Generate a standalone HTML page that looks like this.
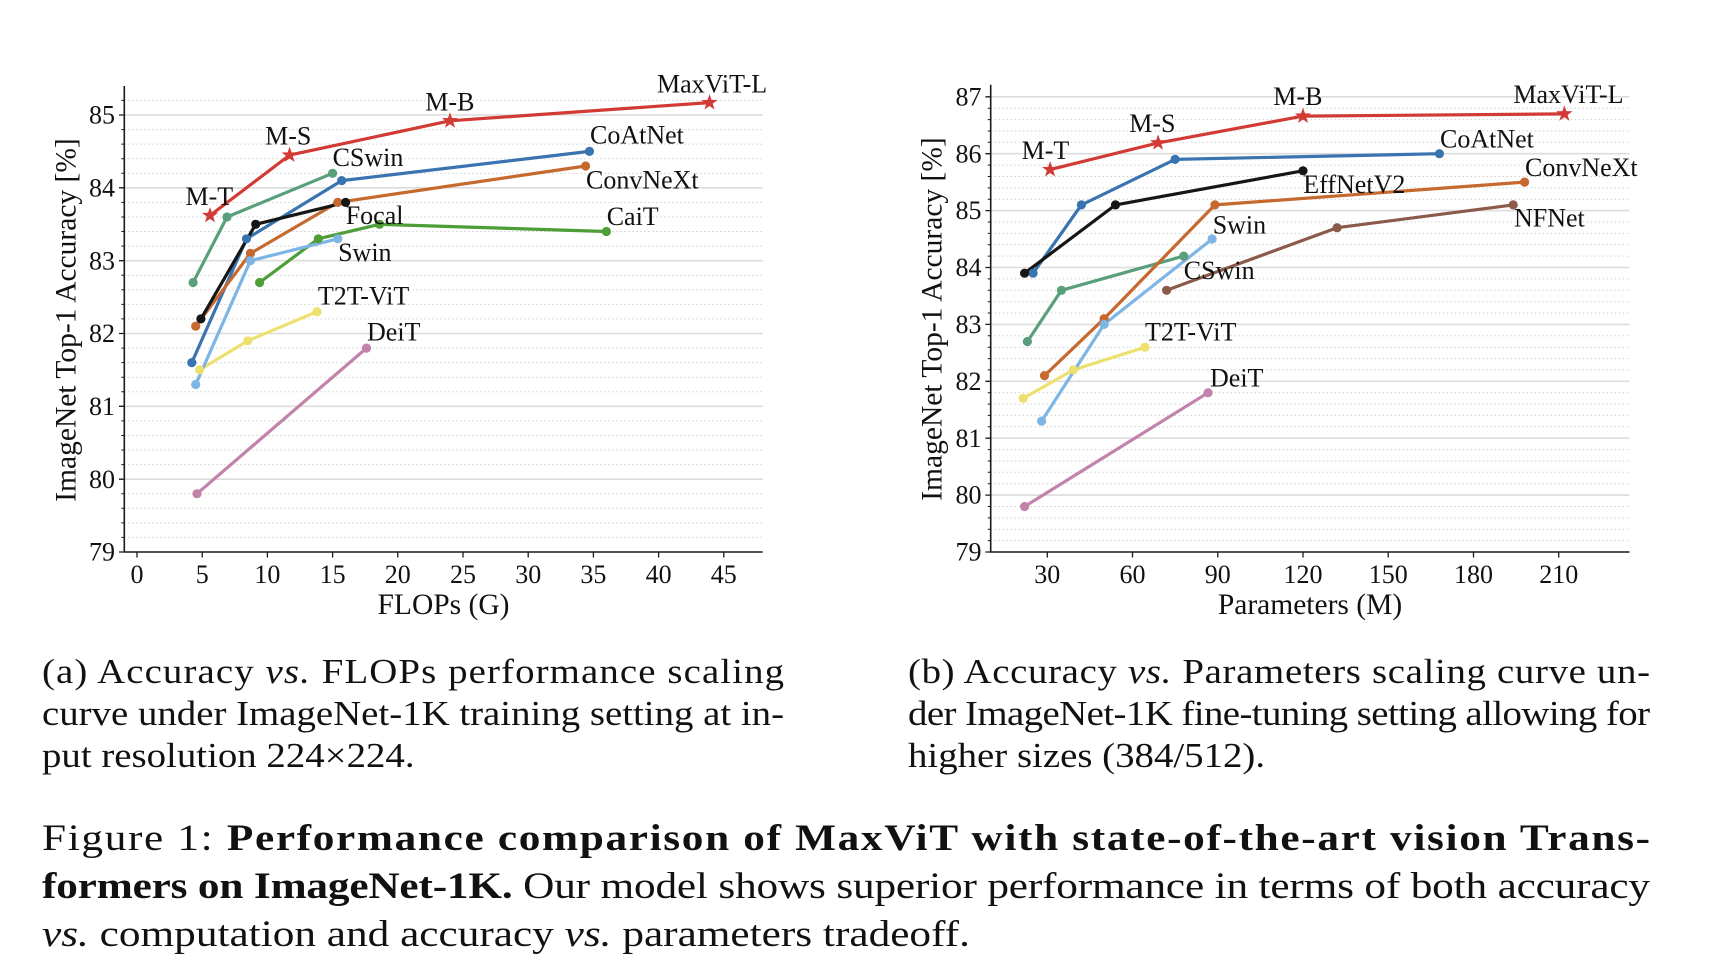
<!DOCTYPE html>
<html>
<head>
<meta charset="utf-8">
<style>
html,body{margin:0;padding:0;background:#fff;}
body{width:1710px;height:972px;position:relative;overflow:hidden;}
svg{position:absolute;left:0;top:0;}
</style>
</head>
<body>
<svg width="1710" height="972" viewBox="0 0 1710 972" xmlns="http://www.w3.org/2000/svg">
<defs>
<path id="star" d="M0,-8.5 L2.0,-2.75 L8.08,-2.63 L3.23,1.05 L5.0,6.88 L0,3.4 L-5.0,6.88 L-3.23,1.05 L-8.08,-2.63 L-2.0,-2.75 Z"/>
</defs>
<!-- ================= LEFT CHART ================= -->
<g>
<path fill="none" stroke="#cfcfcf" stroke-width="1" stroke-dasharray="1.5,2.5" d="M124.3 537.4H762.7M124.3 522.9H762.7M124.3 508.3H762.7M124.3 493.7H762.7M124.3 464.6H762.7M124.3 450.0H762.7M124.3 435.5H762.7M124.3 420.9H762.7M124.3 391.8H762.7M124.3 377.2H762.7M124.3 362.6H762.7M124.3 348.1H762.7M124.3 318.9H762.7M124.3 304.4H762.7M124.3 289.8H762.7M124.3 275.2H762.7M124.3 246.1H762.7M124.3 231.5H762.7M124.3 217.0H762.7M124.3 202.4H762.7M124.3 173.3H762.7M124.3 158.7H762.7M124.3 144.1H762.7M124.3 129.6H762.7M124.3 100.4H762.7"/>
<path fill="none" stroke="#dcdcdc" stroke-width="1.6" d="M124.3 479.2H762.7M124.3 406.3H762.7M124.3 333.5H762.7M124.3 260.7H762.7M124.3 187.8H762.7M124.3 115.0H762.7"/>

<g fill="none" stroke-width="3.2" stroke-linejoin="round" stroke-linecap="round">
<polyline stroke="#c283aa" points="197.0,493.7 366.5,348.1"/>
<polyline stroke="#eee06e" points="199.6,369.9 247.8,340.8 317.0,311.7"/>
<polyline stroke="#4d9e37" points="259.6,282.5 318.3,238.8 379.5,224.3 606.4,231.5"/>
<polyline stroke="#3a74b0" points="191.8,362.6 246.5,238.8 341.7,180.6 589.5,151.4"/>
<polyline stroke="#c5692f" points="195.7,326.2 250.4,253.4 337.8,202.4 585.6,166.0"/>
<polyline stroke="#7db5e5" points="195.7,384.5 250.4,260.7 337.8,238.8"/>
<polyline stroke="#5a9f7b" points="193.1,282.5 227.0,217.0 332.6,173.3"/>
<polyline stroke="#161616" points="200.9,318.9 255.7,224.3 345.6,202.4"/>
<polyline stroke="#d23a35" points="210.0,215.5 289.6,155.1 450.0,120.8 709.5,102.6"/>
</g>
<g fill="#c283aa"><circle cx="197.0" cy="493.7" r="4.6"/><circle cx="366.5" cy="348.1" r="4.6"/></g>
<g fill="#eee06e"><circle cx="199.6" cy="369.9" r="4.6"/><circle cx="247.8" cy="340.8" r="4.6"/><circle cx="317.0" cy="311.7" r="4.6"/></g>
<g fill="#4d9e37"><circle cx="259.6" cy="282.5" r="4.6"/><circle cx="318.3" cy="238.8" r="4.6"/><circle cx="379.5" cy="224.3" r="4.6"/><circle cx="606.4" cy="231.5" r="4.6"/></g>
<g fill="#3a74b0"><circle cx="191.8" cy="362.6" r="4.6"/><circle cx="246.5" cy="238.8" r="4.6"/><circle cx="341.7" cy="180.6" r="4.6"/><circle cx="589.5" cy="151.4" r="4.6"/></g>
<g fill="#c5692f"><circle cx="195.7" cy="326.2" r="4.6"/><circle cx="250.4" cy="253.4" r="4.6"/><circle cx="337.8" cy="202.4" r="4.6"/><circle cx="585.6" cy="166.0" r="4.6"/></g>
<g fill="#7db5e5"><circle cx="195.7" cy="384.5" r="4.6"/><circle cx="250.4" cy="260.7" r="4.6"/><circle cx="337.8" cy="238.8" r="4.6"/></g>
<g fill="#5a9f7b"><circle cx="193.1" cy="282.5" r="4.6"/><circle cx="227.0" cy="217.0" r="4.6"/><circle cx="332.6" cy="173.3" r="4.6"/></g>
<g fill="#161616"><circle cx="200.9" cy="318.9" r="4.6"/><circle cx="255.7" cy="224.3" r="4.6"/><circle cx="345.6" cy="202.4" r="4.6"/></g>
<g fill="#d23a35">
<use href="#star" x="210.0" y="215.5"/><use href="#star" x="289.6" y="155.1"/><use href="#star" x="450.0" y="120.8"/><use href="#star" x="709.5" y="102.6"/>
</g>

<path fill="none" stroke="#1a1a1a" stroke-width="1.6" d="M124.3 86V552.8M123.5 552H762.7"/>
<path fill="none" stroke="#1a1a1a" stroke-width="1.3" d="M119 552H124.3M119 479.2H124.3M119 406.3H124.3M119 333.5H124.3M119 260.7H124.3M119 187.8H124.3M119 115.0H124.3
M137 552V557.5M202.2 552V557.5M267.4 552V557.5M332.6 552V557.5M397.8 552V557.5M463 552V557.5M528.2 552V557.5M593.4 552V557.5M658.6 552V557.5M723.8 552V557.5"/>
<path fill="none" stroke="#1a1a1a" stroke-width="1" d="M121.3 537.4H124.3M121.3 522.9H124.3M121.3 508.3H124.3M121.3 493.7H124.3M121.3 464.6H124.3M121.3 450.0H124.3M121.3 435.5H124.3M121.3 420.9H124.3M121.3 391.8H124.3M121.3 377.2H124.3M121.3 362.6H124.3M121.3 348.1H124.3M121.3 318.9H124.3M121.3 304.4H124.3M121.3 289.8H124.3M121.3 275.2H124.3M121.3 246.1H124.3M121.3 231.5H124.3M121.3 217.0H124.3M121.3 202.4H124.3M121.3 173.3H124.3M121.3 158.7H124.3M121.3 144.1H124.3M121.3 129.6H124.3M121.3 100.4H124.3"/>

<g font-family="Liberation Serif, Times New Roman, serif" font-size="26" fill="#111" text-anchor="end">
<text x="115" y="560.6">79</text><text x="115" y="487.8">80</text><text x="115" y="414.9">81</text><text x="115" y="342.1">82</text><text x="115" y="269.3">83</text><text x="115" y="196.4">84</text><text x="115" y="123.6">85</text>
</g>
<g font-family="Liberation Serif, Times New Roman, serif" font-size="26" fill="#111" text-anchor="middle">
<text x="137" y="583">0</text><text x="202.2" y="583">5</text><text x="267.4" y="583">10</text><text x="332.6" y="583">15</text><text x="397.8" y="583">20</text><text x="463" y="583">25</text><text x="528.2" y="583">30</text><text x="593.4" y="583">35</text><text x="658.6" y="583">40</text><text x="723.8" y="583">45</text>
</g>
<text x="443.5" y="614" font-family="Liberation Serif, Times New Roman, serif" font-size="29.5" fill="#111" text-anchor="middle">FLOPs (G)</text>
<text transform="translate(75.5,320) rotate(-90)" font-family="Liberation Serif, Times New Roman, serif" font-size="29.5" fill="#111" text-anchor="middle">ImageNet Top-1 Accuracy [%]</text>

<g font-family="Liberation Serif, Times New Roman, serif" font-size="26" fill="#111">
<text x="657" y="92.5">MaxViT-L</text>
<text x="425.3" y="110.5">M-B</text>
<text x="265.1" y="144.4">M-S</text>
<text x="185.5" y="204.9">M-T</text>
<text x="590" y="143.5">CoAtNet</text>
<text x="332.6" y="166.1">CSwin</text>
<text x="586" y="188.3">ConvNeXt</text>
<text x="345.7" y="224.1">Focal</text>
<text x="606.7" y="225">CaiT</text>
<text x="338.1" y="260.8">Swin</text>
<text x="317.9" y="304.5">T2T-ViT</text>
<text x="367" y="340.4">DeiT</text>
</g>
</g>

<!-- ================= RIGHT CHART ================= -->
<g>
<path fill="none" stroke="#cfcfcf" stroke-width="1" stroke-dasharray="1.5,2.5" d="M990.7 540.6H1629.5M990.7 529.2H1629.5M990.7 517.9H1629.5M990.7 506.5H1629.5M990.7 483.7H1629.5M990.7 472.3H1629.5M990.7 461.0H1629.5M990.7 449.6H1629.5M990.7 426.8H1629.5M990.7 415.4H1629.5M990.7 404.1H1629.5M990.7 392.7H1629.5M990.7 369.9H1629.5M990.7 358.6H1629.5M990.7 347.2H1629.5M990.7 335.8H1629.5M990.7 313.0H1629.5M990.7 301.7H1629.5M990.7 290.3H1629.5M990.7 278.9H1629.5M990.7 256.1H1629.5M990.7 244.8H1629.5M990.7 233.4H1629.5M990.7 222.0H1629.5M990.7 199.2H1629.5M990.7 187.9H1629.5M990.7 176.5H1629.5M990.7 165.1H1629.5M990.7 142.3H1629.5M990.7 131.0H1629.5M990.7 119.6H1629.5M990.7 108.2H1629.5"/>
<path fill="none" stroke="#dcdcdc" stroke-width="1.6" d="M990.7 495.1H1629.5M990.7 438.2H1629.5M990.7 381.3H1629.5M990.7 324.4H1629.5M990.7 267.5H1629.5M990.7 210.6H1629.5M990.7 153.7H1629.5M990.7 96.8H1629.5"/>

<g fill="none" stroke-width="3.2" stroke-linejoin="round" stroke-linecap="round">
<polyline stroke="#c283aa" points="1024.6,506.5 1208.1,392.7"/>
<polyline stroke="#eee06e" points="1023.2,398.4 1073.4,369.9 1145.0,347.2"/>
<polyline stroke="#8b5a4b" points="1166.6,290.3 1337.1,227.7 1513.2,204.9"/>
<polyline stroke="#5a9f7b" points="1027.4,341.5 1061.5,290.3 1183.7,256.1"/>
<polyline stroke="#c5692f" points="1044.5,375.6 1104.1,318.7 1214.9,204.9 1524.6,182.1"/>
<polyline stroke="#7db5e5" points="1041.6,421.1 1104.1,324.4 1212.1,239.0"/>
<polyline stroke="#3a74b0" points="1033.1,273.2 1081.4,204.9 1175.1,159.4 1439.4,153.7"/>
<polyline stroke="#161616" points="1024.6,273.2 1115.5,204.9 1303.0,170.8"/>
<polyline stroke="#d23a35" points="1050.1,169.6 1158.1,142.9 1303.0,116.1 1564.4,113.9"/>
</g>
<g fill="#c283aa"><circle cx="1024.6" cy="506.5" r="4.6"/><circle cx="1208.1" cy="392.7" r="4.6"/></g>
<g fill="#eee06e"><circle cx="1023.2" cy="398.4" r="4.6"/><circle cx="1073.4" cy="369.9" r="4.6"/><circle cx="1145.0" cy="347.2" r="4.6"/></g>
<g fill="#8b5a4b"><circle cx="1166.6" cy="290.3" r="4.6"/><circle cx="1337.1" cy="227.7" r="4.6"/><circle cx="1513.2" cy="204.9" r="4.6"/></g>
<g fill="#5a9f7b"><circle cx="1027.4" cy="341.5" r="4.6"/><circle cx="1061.5" cy="290.3" r="4.6"/><circle cx="1183.7" cy="256.1" r="4.6"/></g>
<g fill="#c5692f"><circle cx="1044.5" cy="375.6" r="4.6"/><circle cx="1104.1" cy="318.7" r="4.6"/><circle cx="1214.9" cy="204.9" r="4.6"/><circle cx="1524.6" cy="182.1" r="4.6"/></g>
<g fill="#7db5e5"><circle cx="1041.6" cy="421.1" r="4.6"/><circle cx="1104.1" cy="324.4" r="4.6"/><circle cx="1212.1" cy="239.0" r="4.6"/></g>
<g fill="#3a74b0"><circle cx="1033.1" cy="273.2" r="4.6"/><circle cx="1081.4" cy="204.9" r="4.6"/><circle cx="1175.1" cy="159.4" r="4.6"/><circle cx="1439.4" cy="153.7" r="4.6"/></g>
<g fill="#161616"><circle cx="1024.6" cy="273.2" r="4.6"/><circle cx="1115.5" cy="204.9" r="4.6"/><circle cx="1303.0" cy="170.8" r="4.6"/></g>
<g fill="#d23a35">
<use href="#star" x="1050.1" y="169.6"/><use href="#star" x="1158.1" y="142.9"/><use href="#star" x="1303.0" y="116.1"/><use href="#star" x="1564.4" y="113.9"/>
</g>

<path fill="none" stroke="#1a1a1a" stroke-width="1.6" d="M990.7 84.8V552.8M989.9 552H1629.5"/>
<path fill="none" stroke="#1a1a1a" stroke-width="1.3" d="M985.4 552H990.7M985.4 495.1H990.7M985.4 438.2H990.7M985.4 381.3H990.7M985.4 324.4H990.7M985.4 267.5H990.7M985.4 210.6H990.7M985.4 153.7H990.7M985.4 96.8H990.7
M1047.3 552V557.5M1132.5 552V557.5M1217.8 552V557.5M1303.0 552V557.5M1388.2 552V557.5M1473.5 552V557.5M1558.7 552V557.5"/>
<path fill="none" stroke="#1a1a1a" stroke-width="1" d="M987.7 540.6H990.7M987.7 529.2H990.7M987.7 517.9H990.7M987.7 506.5H990.7M987.7 483.7H990.7M987.7 472.3H990.7M987.7 461.0H990.7M987.7 449.6H990.7M987.7 426.8H990.7M987.7 415.4H990.7M987.7 404.1H990.7M987.7 392.7H990.7M987.7 369.9H990.7M987.7 358.6H990.7M987.7 347.2H990.7M987.7 335.8H990.7M987.7 313.0H990.7M987.7 301.7H990.7M987.7 290.3H990.7M987.7 278.9H990.7M987.7 256.1H990.7M987.7 244.8H990.7M987.7 233.4H990.7M987.7 222.0H990.7M987.7 199.2H990.7M987.7 187.9H990.7M987.7 176.5H990.7M987.7 165.1H990.7M987.7 142.3H990.7M987.7 131.0H990.7M987.7 119.6H990.7M987.7 108.2H990.7"/>

<g font-family="Liberation Serif, Times New Roman, serif" font-size="26" fill="#111" text-anchor="end">
<text x="981.5" y="560.6">79</text><text x="981.5" y="503.7">80</text><text x="981.5" y="446.8">81</text><text x="981.5" y="389.9">82</text><text x="981.5" y="333.0">83</text><text x="981.5" y="276.1">84</text><text x="981.5" y="219.2">85</text><text x="981.5" y="162.3">86</text><text x="981.5" y="105.4">87</text>
</g>
<g font-family="Liberation Serif, Times New Roman, serif" font-size="26" fill="#111" text-anchor="middle">
<text x="1047.3" y="583">30</text><text x="1132.5" y="583">60</text><text x="1217.8" y="583">90</text><text x="1303.0" y="583">120</text><text x="1388.2" y="583">150</text><text x="1473.5" y="583">180</text><text x="1558.7" y="583">210</text>
</g>
<text x="1310" y="614" font-family="Liberation Serif, Times New Roman, serif" font-size="29.5" fill="#111" text-anchor="middle">Parameters (M)</text>
<text transform="translate(941.5,319) rotate(-90)" font-family="Liberation Serif, Times New Roman, serif" font-size="29.5" fill="#111" text-anchor="middle">ImageNet Top-1 Accuracy [%]</text>

<g font-family="Liberation Serif, Times New Roman, serif" font-size="26" fill="#111">
<text x="1021.6" y="159.1">M-T</text>
<text x="1129.2" y="131.8">M-S</text>
<text x="1273.3" y="105.2">M-B</text>
<text x="1513.4" y="103">MaxViT-L</text>
<text x="1440" y="147.3">CoAtNet</text>
<text x="1525" y="176">ConvNeXt</text>
<text x="1303.3" y="193">EffNetV2</text>
<text x="1514" y="226.7">NFNet</text>
<text x="1212.7" y="233.4">Swin</text>
<text x="1183.8" y="279">CSwin</text>
<text x="1145" y="340.7">T2T-ViT</text>
<text x="1210" y="386.4">DeiT</text>
</g>
</g>

<!-- ================= CAPTIONS ================= -->
<g font-family="Liberation Serif, Times New Roman, serif" font-size="35" fill="#111">
<text transform="translate(42,683) scale(1.11,1)" textLength="668.5" lengthAdjust="spacing">(a) Accuracy <tspan font-style="italic">vs.</tspan> FLOPs performance scaling</text>
<text transform="translate(42,725) scale(1.11,1)" textLength="668.5" lengthAdjust="spacing">curve under ImageNet-1K training setting at in-</text>
<text transform="translate(42,767) scale(1.11,1)">put resolution 224×224.</text>

<text transform="translate(908,683) scale(1.11,1)" textLength="668.5" lengthAdjust="spacing">(b) Accuracy <tspan font-style="italic">vs.</tspan> Parameters scaling curve un-</text>
<text transform="translate(908,725) scale(1.11,1)" textLength="668.5" lengthAdjust="spacing">der ImageNet-1K fine-tuning setting allowing for</text>
<text transform="translate(908,767) scale(1.11,1)">higher sizes (384/512).</text>
</g>
<g font-family="Liberation Serif, Times New Roman, serif" font-size="37" fill="#111">
<text transform="translate(42,850) scale(1.17,1)" textLength="1374.4" lengthAdjust="spacing">Figure 1: <tspan font-weight="bold">Performance comparison of MaxViT with state-of-the-art vision Trans-</tspan></text>
<text transform="translate(42,898) scale(1.17,1)" textLength="1374.4" lengthAdjust="spacing"><tspan font-weight="bold">formers on ImageNet-1K.</tspan> Our model shows superior performance in terms of both accuracy</text>
<text transform="translate(42,946) scale(1.17,1)"><tspan font-style="italic">vs.</tspan> computation and accuracy <tspan font-style="italic">vs.</tspan> parameters tradeoff.</text>
</g>
</svg>
</body>
</html>
